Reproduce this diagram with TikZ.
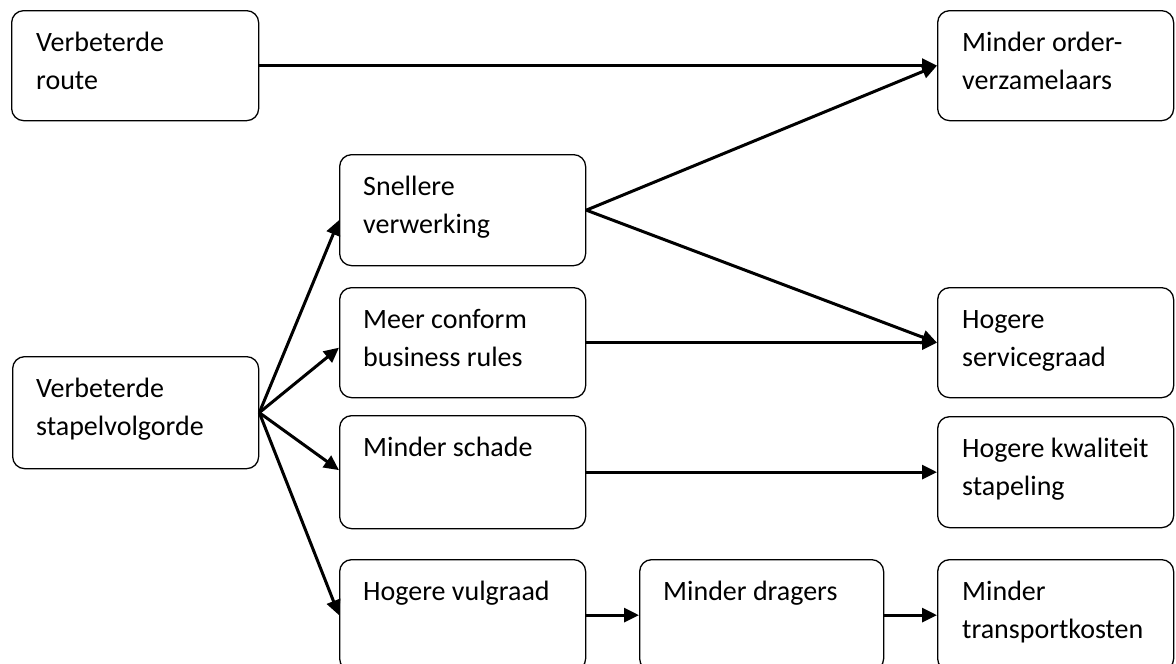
\documentclass[tikz,border=0pt]{standalone}
\usepackage{fontspec}
\setmainfont{Carlito}
\usetikzlibrary{arrows.meta,calc}
\begin{document}
\begin{tikzpicture}[x=1pt,y=-1pt,
  box/.style={draw, line width=1.3pt, rounded corners=12pt, inner sep=0pt,
    minimum width=246pt, minimum height=111pt, anchor=north west},
  lbl/.style={anchor=north west, inner sep=0pt, align=left,
    font=\fontsize{28}{38}\selectfont},
  arr/.style={line width=3pt, -{Triangle[length=15pt,width=14pt]}}]
\useasboundingbox (0,0) rectangle (1176,664);
\clip (0,0) rectangle (1176,664);
% boxes
\node[box, minimum width=247pt, minimum height=110pt] (route) at (11,10) {};
\node[box, minimum width=236pt, minimum height=110pt] (order) at (937,10) {};
\node[box] (snel) at (339,154) {};
\node[box, minimum height=110pt] (meer) at (339,287) {};
\node[box, minimum width=236pt, minimum height=110pt] (serv) at (937,287) {};
\node[box, minimum height=112pt] (stapel) at (12,356) {};
\node[box, minimum height=113pt] (schade) at (339,415) {};
\node[box, minimum width=236pt] (kwal) at (937,416) {};
\node[box] (vul) at (339,559) {};
\node[box, minimum width=244pt] (drag) at (639,559) {};
\node[box, minimum width=236pt] (trans) at (937,559) {};
% labels
\node[lbl] (routeL) at ($(route.north west)+(25,21)$) {\rule{0pt}{20pt}Verbeterde\\route};
\node[lbl] (orderL) at ($(order.north west)+(25,21)$) {\rule{0pt}{20pt}Minder order-\\verzamelaars};
\node[lbl] (snelL) at ($(snel.north west)+(24,21)$) {\rule{0pt}{20pt}Snellere\\verwerking};
\node[lbl] (meerL) at ($(meer.north west)+(24,21)$) {\rule{0pt}{20pt}Meer conform\\business rules};
\node[lbl] (servL) at ($(serv.north west)+(25,21)$) {\rule{0pt}{20pt}Hogere\\servicegraad};
\node[lbl] (stapelL) at ($(stapel.north west)+(24,21)$) {\rule{0pt}{20pt}Verbeterde\\stapelvolgorde};
\node[lbl] (schadeL) at ($(schade.north west)+(24,21)$) {\rule{0pt}{20pt}Minder schade};
\node[lbl] (kwalL) at ($(kwal.north west)+(25,21)$) {\rule{0pt}{20pt}Hogere kwaliteit\\stapeling};
\node[lbl] (vulL) at ($(vul.north west)+(24,21)$) {\rule{0pt}{20pt}Hogere vulgraad};
\node[lbl] (dragL) at ($(drag.north west)+(24,21)$) {\rule{0pt}{20pt}Minder dragers};
\node[lbl] (transL) at ($(trans.north west)+(25,21)$) {\rule{0pt}{20pt}Minder\\transportkosten};
% arrows
\draw[arr] (route.east) -- (order.west);
\draw[arr] (snel.east) -- (order.west);
\draw[arr] (snel.east) -- (serv.west);
\draw[arr] (meer.east) -- (serv.west);
\draw[arr] (stapel.east) -- ($(snel.west)+(0,10)$);
\draw[arr] (stapel.east) -- ($(meer.west)+(0,5)$);
\draw[arr] (stapel.east) -- ($(schade.west)+(0,-2)$);
\draw[arr] (stapel.east) -- (vul.west);
\draw[arr] (schade.east) -- (kwal.west);
\draw[arr] (vul.east) -- (drag.west);
\draw[arr] (drag.east) -- (trans.west);
\end{tikzpicture}
\end{document}
